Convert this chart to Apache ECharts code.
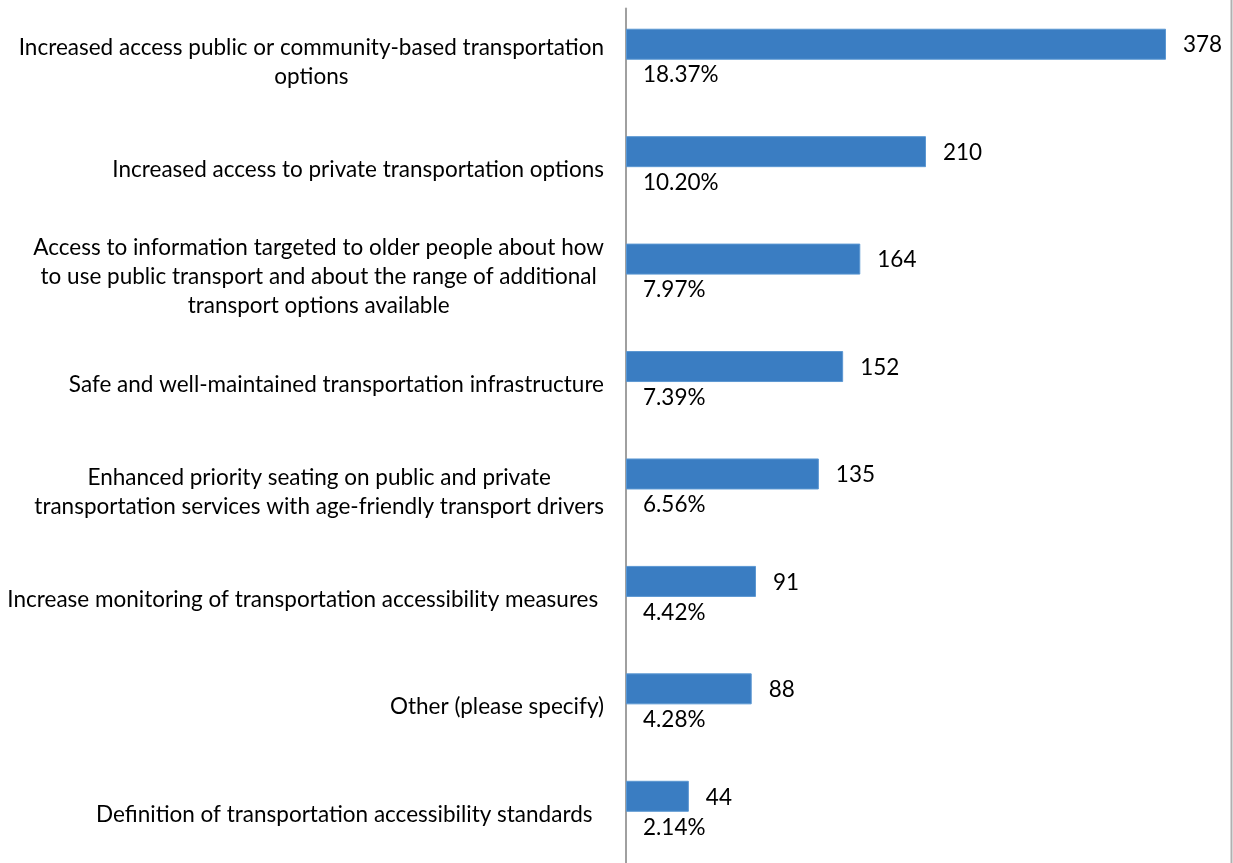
<!DOCTYPE html>
<html>
<head>
<meta charset="utf-8">
<script src="https://cdn.jsdelivr.net/npm/echarts@6/dist/echarts.min.js"></script>
<style>
html,body{margin:0;padding:0;background:#fff;overflow:hidden;}
#chart{width:1233px;height:872px;}
</style>
</head>
<body>
<div id="chart"></div>
<script>
var categories = [
  "Increased access public or community-based transportation\noptions",
  "Increased access to private transportation options",
  "Access to information targeted to older people about how\nto use public transport and about the range of additional\ntransport options available",
  "Safe and well-maintained transportation infrastructure",
  "Enhanced priority seating on public and private\ntransportation services with age-friendly transport drivers",
  "Increase monitoring of transportation accessibility measures ",
  "Other (please specify)",
  "Definition of transportation accessibility standards  "
];
var counts = [378, 210, 164, 152, 135, 91, 88, 44];
var percents = [18.37, 10.20, 7.97, 7.39, 6.56, 4.42, 4.28, 2.14];

var FONT = 'Lato';
var FS = 22.5;
var chart = echarts.init(document.getElementById('chart'), null, {renderer: 'canvas'});
chart.setOption({
  animation: false,
  backgroundColor: '#ffffff',
  grid: {left: 626, top: 8.5, width: 605, height: 859.5, containLabel: false},
  xAxis: {
    type: 'value', min: 0, max: 423.5, show: false
  },
  yAxis: {
    type: 'category', data: categories, inverse: true,
    axisLine: {show: true, lineStyle: {color: '#A0A0A0', width: 2}},
    axisTick: {show: false},
    splitLine: {show: false},
    axisLabel: {
      margin: 22, align: 'right',
      formatter: function (v) {
        return v.split('\n').map(function (l) { return '{c|' + l + '}'; }).join('\n');
      },
      rich: {c: {align: 'center', fontFamily: FONT, fontSize: FS, color: '#000', lineHeight: 29}}
    }
  },
  series: [
    {
      type: 'bar', data: counts, barWidth: 31, barGap: '16.1%',
      itemStyle: {color: '#3A7DC2', borderColor: '#5B97D2', borderWidth: 1},
      label: {show: true, position: 'right', distance: 17, offset: [0, 1], fontFamily: FONT, fontSize: FS, color: '#000'}
    },
    {
      type: 'bar', data: percents, barWidth: 31,
      itemStyle: {color: 'rgba(0,0,0,0)'},
      label: {show: true, position: 'insideLeft', distance: 17, offset: [0, -5],
        fontFamily: FONT, fontSize: FS, color: '#000',
        formatter: function (p) { return p.value.toFixed(2) + '%'; }}
    }
  ],
  graphic: [{
    type: 'line', shape: {x1: 1231.5, y1: 0, x2: 1231.5, y2: 872},
    style: {stroke: '#B0B0B0', lineWidth: 2}
  }]
});
</script>
</body>
</html>
